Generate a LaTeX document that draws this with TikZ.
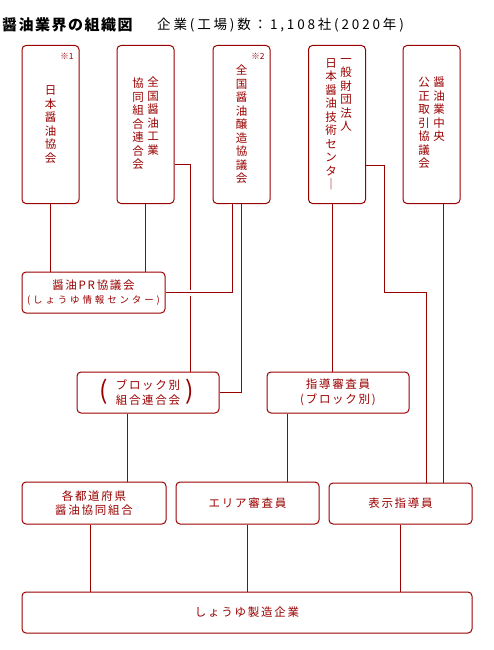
\documentclass[tikz,border=0pt]{standalone}
\usepackage{fontspec}
\setmainfont{Noto Sans CJK JP}
\definecolor{soyred}{HTML}{990000}
\newcommand\boxfont{\fontsize{11.5}{14.5}\selectfont\addfontfeature{LetterSpace=15}}
\newcommand\subfont{\fontsize{9.5}{12}\selectfont\addfontfeature{LetterSpace=30}}
\newcommand\vfont{\fontsize{11.5}{13.5}\selectfont}
\newcommand\notefont{\fontsize{8.5}{10}\selectfont}
\begin{document}
\begin{tikzpicture}[x=1pt,y=-1pt,
  orgbox/.style={draw=soyred,line width=1pt,rounded corners=4pt,inner sep=0pt,text=soyred,align=center,font=\boxfont},
  tallbox/.style={orgbox,minimum width=57pt,minimum height=158pt,font=\vfont},
  widebox/.style={orgbox,minimum width=143pt,minimum height=41pt},
  vcol/.style={inner sep=0pt,anchor=north,align=center,text=soyred,font=\vfont},
  note/.style={inner sep=0pt,text=soyred,font=\notefont},
  paren/.style={inner sep=0pt,text=soyred,font=\fontsize{25}{25}\selectfont},
  link/.style={draw=soyred,line width=1pt}]
\useasboundingbox (0,0) rectangle (494,650);
% title
\node[anchor=west,inner sep=0pt,font=\fontsize{15}{18}\selectfont\bfseries\addfontfeature{LetterSpace=10}] (ttl) at (2,25) {醤油業界の組織図};
\node[anchor=west,inner sep=0pt,font=\fontsize{13.5}{16}\selectfont\addfontfeature{LetterSpace=21}] (ttlsub) at (157,25) {企業(工場)数：1,108社(2020年)};
% top row
\node[tallbox] (b1) at (50.5,124.5) {日\\本\\醤\\油\\協\\会};
\node[tallbox] (b2) at (145.5,124.5) {};
\node[tallbox] (b3) at (241.5,124.5) {全\\国\\醤\\油\\醸\\造\\協\\議\\会};
\node[tallbox] (b4) at (337,124.5) {};
\node[tallbox] (b5) at (431.5,124.5) {};
\node[note] (n1) at (67,56) {※1};
\node[note] (n2) at (258,56) {※2};
\node[vcol] (b2r) at (153,77) {全\\国\\醤\\油\\工\\業};
\node[vcol] (b2l) at (138,78) {協\\同\\組\\合\\連\\合\\会};
\node[vcol] (b4r) at (346,58) {一\\般\\財\\団\\法\\人};
\node[vcol] (b4l) at (331,58) {日\\本\\醤\\油\\技\\術\\セ\\ン\\タ\\｜};
\node[vcol] (b5r) at (439,77) {醤\\油\\業\\中\\央};
\node[vcol] (b5l) at (424,77) {公\\正\\取\\引\\協\\議\\会};
% middle rows
\node[widebox] (pr) at (93.5,292.5) {醤油PR協議会\\{\subfont (しょうゆ情報センター)}};
\node[widebox,minimum width=142pt] (blk) at (148,392.5) {ブロック別\\組合連合会};
\node[paren] (lp) at (104,392) {(};
\node[paren] (rp) at (190,392) {)};
\node[widebox,minimum width=142pt] (shido) at (338,392.5) {指導審査員\\(ブロック別)};
\node[widebox,minimum width=144pt,minimum height=42pt] (pref) at (94,503) {各都道府県\\醤油協同組合};
\node[widebox,minimum height=42pt] (area) at (247.5,503) {エリア審査員};
\node[widebox] (hyoji) at (400.5,503.5) {表示指導員};
\node[widebox,minimum width=450pt] (maker) at (247,612.5) {しょうゆ製造企業};
% connectors
\coordinate (bend) at (384,292.5);
\draw[link] (b1.south) -- (b1.south |- pr.north);
\draw[link] (b2.south) -- (b2.south |- pr.north);
\draw[link] ([yshift=-40pt]b2.east) -| ([xshift=42pt]blk.north);
\draw[link,preaction={draw,white,line width=6pt}] ([xshift=-9.5pt]b3.south) |- (pr.east);
\draw[link] (b3.south) |- (blk.east);
\draw[link] ([xshift=-5pt]b4.south) -- ([xshift=-5pt]b4.south |- shido.north);
\draw[link] ([yshift=-40.5pt]b4.east) -| (bend) -| ([xshift=25.5pt]hyoji.north);
\draw[link] ([xshift=11.5pt]b5.south) -- ([xshift=11.5pt]b5.south |- hyoji.north);
\draw[link] ([xshift=-21pt]blk.south) -- ([xshift=-21pt]blk.south |- pref.north);
\draw[link] ([xshift=-51pt]shido.south) -- ([xshift=-51pt]shido.south |- area.north);
\draw[link] ([xshift=-4pt]pref.south) -- ([xshift=-4pt]pref.south |- maker.north);
\draw[link] (area.south) -- (area.south |- maker.north);
\draw[link] (hyoji.south) -- (hyoji.south |- maker.north);
\end{tikzpicture}
\end{document}
